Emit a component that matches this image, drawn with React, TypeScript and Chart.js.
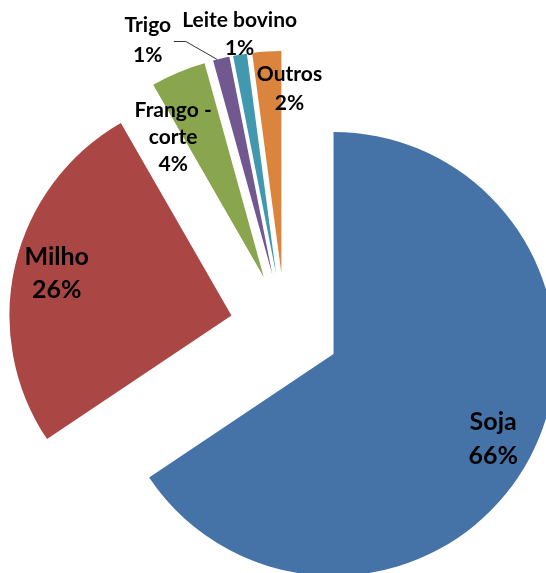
import { useEffect, useRef } from "react";
import { Chart, registerables } from "chart.js";

Chart.register(...registerables);

// ---- data ----
const categories = ["Soja", "Milho", "Frango - corte", "Trigo", "Leite bovino", "Outros"];
const categoryLines = [["Soja"], ["Milho"], ["Frango -", "corte"], ["Trigo"], ["Leite bovino"], ["Outros"]];
const shares = [65.6, 26.1, 4.0, 1.2, 1.0, 2.1];
const colors = ["#4572A7", "#AA4643", "#89A54E", "#71588F", "#4198AF", "#DB843D"];

// ---- style ----
const RADIUS = 222;
const EXPLODE = 55;
const FONT = "Lato, 'Open Sans', sans-serif";
// label placement relative to each exploded slice: angular nudge (deg), radial factor, font size, line height
const labelPlacement = [
  { dA: 0, r: 0.815, size: 25, lh: 34 },
  { dA: 0.5, r: 0.81, size: 25, lh: 33 },
  { dA: -10.2, r: 0.752, size: 21, lh: 27 },
  { dA: -14.7, r: 1.194, size: 21, lh: 30 },
  { dA: 0.7, r: 1.09, size: 21, lh: 28 },
  { dA: 6.3, r: 0.833, size: 21, lh: 29 },
];
const leaderIndex = 3;

const explodePlugin = {
  id: "explodeAll",
  afterDatasetsUpdate(chart: any) {
    const meta = chart.getDatasetMeta(0);
    const ca = chart.chartArea;
    const cx = (ca.left + ca.right) / 2;
    const cy = (ca.top + ca.bottom) / 2;
    meta.data.forEach((arc: any) => {
      const mid = (arc.startAngle + arc.endAngle) / 2;
      arc.x = cx + Math.cos(mid) * EXPLODE;
      arc.y = cy + Math.sin(mid) * EXPLODE;
    });
  },
};

const labelPlugin = {
  id: "sliceLabels",
  afterDatasetsDraw(chart: any) {
    const ctx = chart.ctx;
    const meta = chart.getDatasetMeta(0);
    const values: number[] = chart.data.datasets[0].data;
    const total = values.reduce((a, b) => a + b, 0);
    ctx.save();
    meta.data.forEach((arc: any, i: number) => {
      const p = labelPlacement[i];
      const mid = (arc.startAngle + arc.endAngle) / 2 + (p.dA * Math.PI) / 180;
      const ax = arc.x + Math.cos(mid) * arc.outerRadius * p.r;
      const ay = arc.y + Math.sin(mid) * arc.outerRadius * p.r;
      const lines = [...categoryLines[i], Math.round((values[i] / total) * 100) + "%"];
      ctx.font = `bold ${p.size}px ${FONT}`;
      ctx.fillStyle = "#000";
      ctx.textAlign = "center";
      ctx.textBaseline = "middle";
      const y0 = ay - ((lines.length - 1) * p.lh) / 2;
      let maxW = 0;
      lines.forEach((t, k) => {
        ctx.fillText(t, ax, y0 + k * p.lh);
        maxW = Math.max(maxW, ctx.measureText(t).width);
      });
      if (i === leaderIndex) {
        const sx = ax + 26;
        const sy = ay + 1;
        const edgeAng = (arc.startAngle + arc.endAngle) / 2;
        const ex = arc.x + Math.cos(edgeAng) * arc.outerRadius;
        const ey = arc.y + Math.sin(edgeAng) * arc.outerRadius;
        ctx.beginPath();
        ctx.strokeStyle = "#333";
        ctx.lineWidth = 1;
        ctx.moveTo(sx, sy);
        ctx.lineTo(sx + 12, sy);
        ctx.lineTo(ex - 4, ey + 1);
        ctx.stroke();
      }
    });
    ctx.restore();
  },
};

export default function App() {
  const ref = useRef<HTMLCanvasElement | null>(null);
  useEffect(() => {
    if (!ref.current) return;
    const chart = new Chart(ref.current, {
      type: "pie",
      data: {
        labels: categories,
        datasets: [
          {
            data: shares,
            backgroundColor: colors,
            borderWidth: 0,
            clip: false as any,
          },
        ],
      },
      options: {
        responsive: false,
        animation: false,
        radius: RADIUS,
        layout: { padding: { left: 24, top: 83, right: 0, bottom: 0 } },
        plugins: {
          legend: { display: false },
          tooltip: { enabled: false },
        },
        events: [],
      } as any,
      plugins: [explodePlugin, labelPlugin],
    });
    return () => chart.destroy();
  }, []);
  return (
    <div style={{ position: "absolute", left: 0, top: 0, width: 546, height: 573, background: "#fff" }}>
      <canvas ref={ref} width={546} height={573} style={{ display: "block" }} />
    </div>
  );
}
